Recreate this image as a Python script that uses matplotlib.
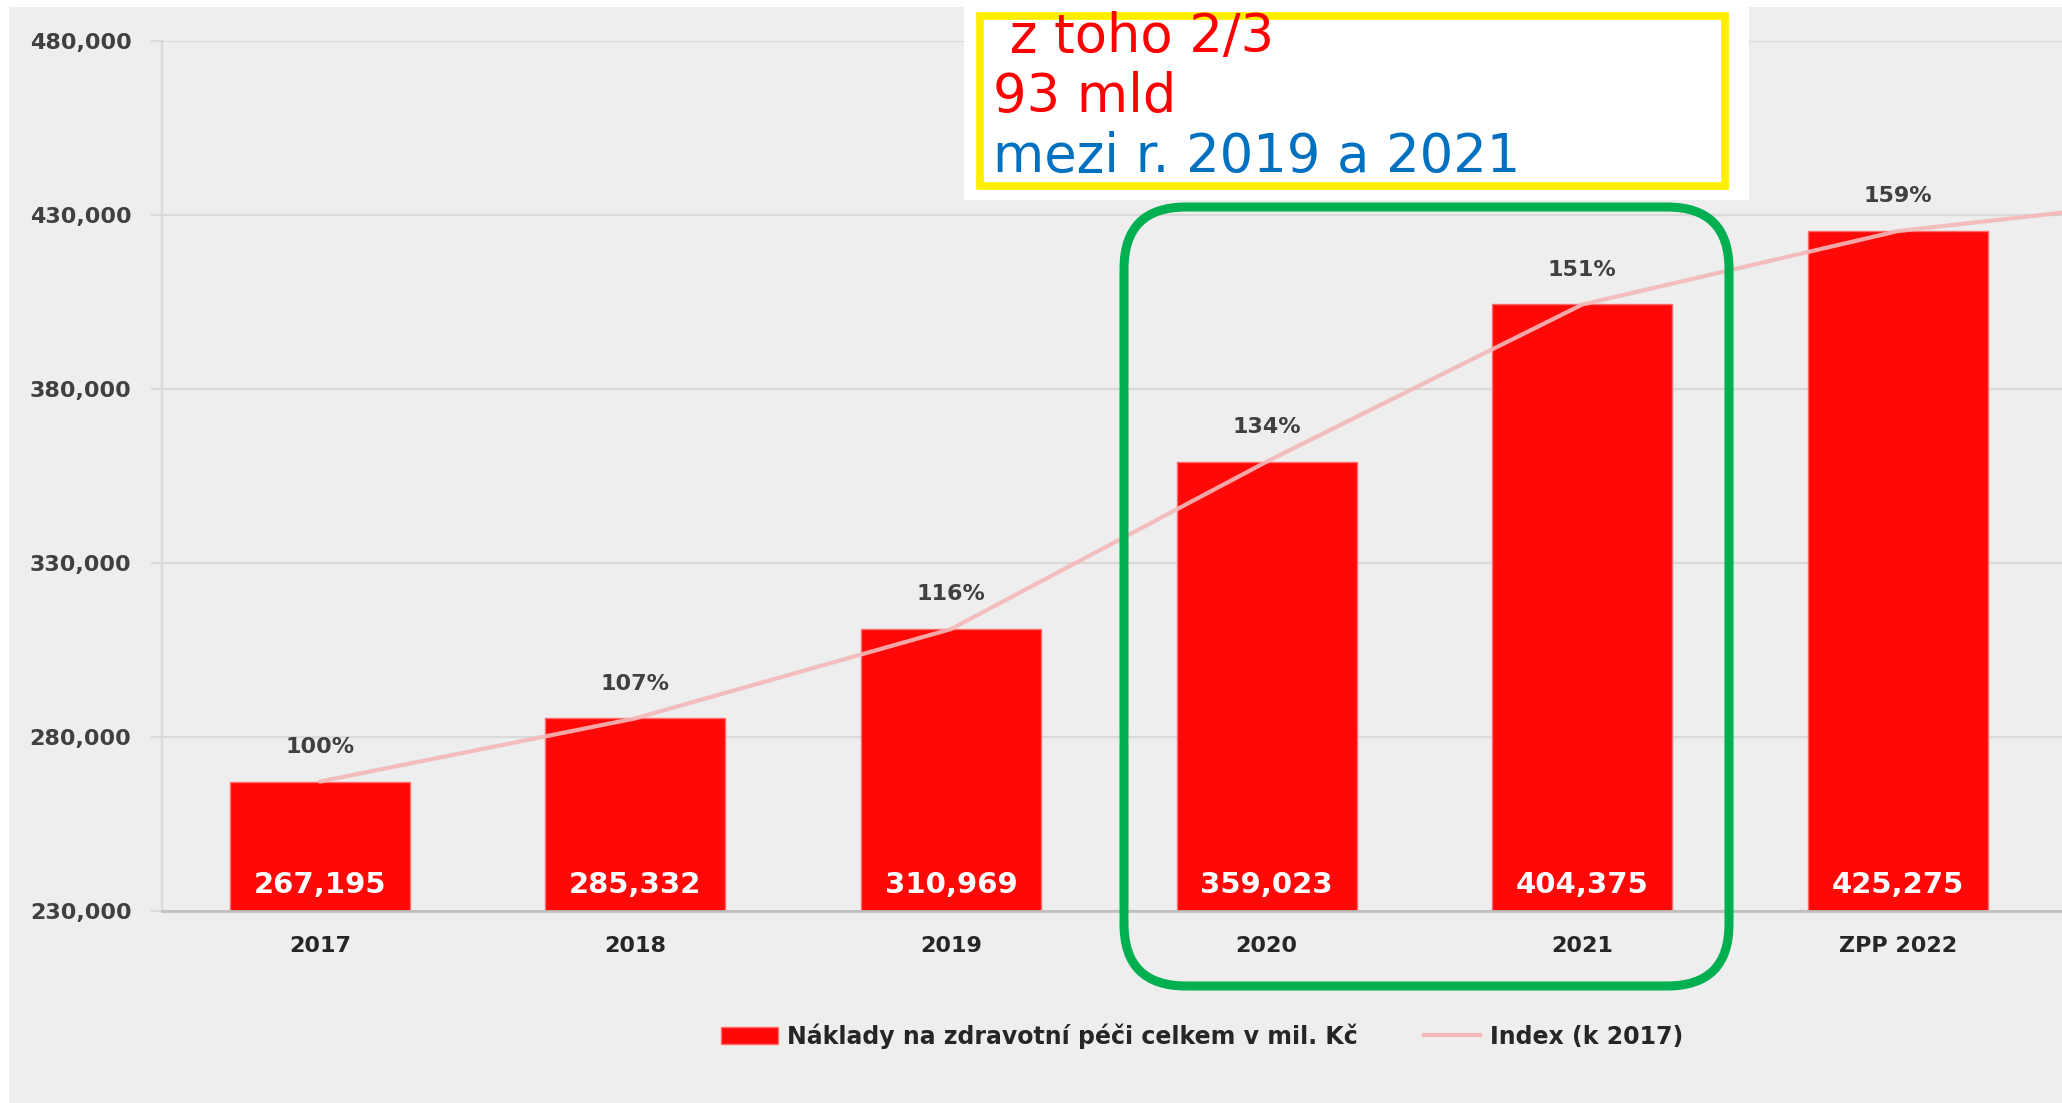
import numpy as np
import matplotlib
matplotlib.use("Agg")
import matplotlib.pyplot as plt
from matplotlib.patches import Rectangle, FancyBboxPatch
from matplotlib.lines import Line2D
from matplotlib.ticker import FuncFormatter

# data
years = ["2017", "2018", "2019", "2020", "2021", "ZPP 2022"]
costs = [267195, 285332, 310969, 359023, 404375, 425275]
# index vs 2017; the last point belongs to a year cut off on the right
index = [1.000, 1.068, 1.164, 1.344, 1.513, 1.592, 1.630]
yticks = [230000, 280000, 330000, 380000, 430000, 480000]
note_lines = [" z toho 2/3", "93 mld", "mezi r. 2019 a 2021"]
note_colors = ["#ff0000", "#ff0000", "#0070c0"]

W, H = 2062, 1103
BG = "#eeeeee"
TXT = "#404040"

fig = plt.figure(figsize=(W / 100, H / 100), dpi=100, facecolor=BG)


def fx(px):
    return px / W


def fy(py):
    return 1 - py / H


# white strips on the left and top edge of the screenshot
fig.add_artist(Rectangle((0, 0), fx(9), 1, transform=fig.transFigure,
                         facecolor="white", edgecolor="none", zorder=0))
fig.add_artist(Rectangle((0, fy(7)), 1, 7 / H, transform=fig.transFigure,
                         facecolor="white", edgecolor="none", zorder=0))

ax = fig.add_axes([fx(162), fy(911), 1 - fx(162), (911 - 41) / H])
ax.set_facecolor(BG)

x = np.arange(len(years))
ax.bar(x, costs, width=0.57, color="#ff0808", edgecolor="#ff6a6a",
       linewidth=1, zorder=2)

ax.set_ylim(yticks[0], yticks[-1])
ax.set_xlim(-0.5, -0.5 + (W - 162) / 315.6)
ax.set_yticks(yticks)
ax.yaxis.set_major_formatter(FuncFormatter(lambda v, p: f"{int(v):,}"))
ax.set_xticks(x)
ax.set_xticklabels(years)
ax.grid(axis="y", color="#d9d9d9", linewidth=1.6, zorder=0)
ax.set_axisbelow(True)
for s in ["top", "right"]:
    ax.spines[s].set_visible(False)
ax.spines["left"].set_color("#d9d9d9")
ax.spines["left"].set_linewidth(1.6)
ax.spines["bottom"].set_color("#bfbfbf")
ax.spines["bottom"].set_linewidth(2)
ax.tick_params(axis="y", length=8, width=1.6, color="#d9d9d9", pad=14,
               labelsize=16, labelcolor=TXT)
ax.tick_params(axis="x", length=0, pad=18, labelsize=16, labelcolor="#262626")
for t in ax.get_yticklabels() + ax.get_xticklabels():
    t.set_fontweight("bold")

# cost values inside the bars, near the bottom
for xi, v in zip(x, costs):
    ax.annotate(f"{v:,}", (xi, yticks[0]), xytext=(0, 19),
                textcoords="offset points", ha="center", va="center",
                color="white", fontsize=21, fontweight="bold", zorder=4)

# index line on a secondary axis (100 % sits on the 2017 bar top)
ax2 = ax.twinx()
ax2.set_ylim(np.array([yticks[0], yticks[-1]]) / costs[0])
ax2.axis("off")
xi_all = np.arange(len(index))
ax2.plot(xi_all, index, color="#f4b8b8", linewidth=3, alpha=0.9,
         solid_capstyle="round")
for xi, v in zip(x, index[:len(years)]):
    ax2.annotate(f"{v * 100:.0f}%", (xi, v), xytext=(0, 25),
                 textcoords="offset points", ha="center", va="center",
                 color=TXT, fontsize=16, fontweight="bold")

# note box at the top
fig.add_artist(Rectangle((fx(964), fy(200)), fx(1749 - 964), 200 / H,
                         transform=fig.transFigure, facecolor="white",
                         edgecolor="none", zorder=5))
fig.add_artist(Rectangle((fx(980), fy(186)), fx(1725 - 980), (186 - 16) / H,
                         transform=fig.transFigure, facecolor="white",
                         edgecolor="#ffee00", linewidth=5.5, zorder=6))
for (line, col, px, py) in zip(note_lines, note_colors,
                               [993, 993, 993], [37, 97, 157]):
    fig.text(fx(px), fy(py), line, color=col, fontsize=38, ha="left",
             va="center", zorder=7)

# green rounded frame round 2020 and 2021
r = 62
fig.add_artist(FancyBboxPatch((fx(1124), fy(986)), fx(1729 - 1124),
                              (986 - 207) / H,
                              boxstyle=f"round,pad=0,rounding_size={r / W}",
                              mutation_aspect=W / H,
                              transform=fig.transFigure, facecolor="none",
                              edgecolor="#00b050", linewidth=6.5, zorder=6))

handles = [Rectangle((0, 0), 1, 1, facecolor="#ff0808", edgecolor="#ff6a6a"),
           Line2D([0], [0], color="#f4b8b8", linewidth=3)]
labels = ["Náklady na zdravotní péči celkem v mil. Kč", "Index (k 2017)"]
leg = fig.legend(handles, labels, loc="center", ncol=2,
                 bbox_to_anchor=(fx(1202), fy(1036)), frameon=False,
                 prop={"size": 17, "weight": "bold"}, handlelength=2.4,
                 handletextpad=0.4, columnspacing=2.8)
for t in leg.get_texts():
    t.set_color("#262626")

fig.savefig("out.png", dpi=100, facecolor=BG)
